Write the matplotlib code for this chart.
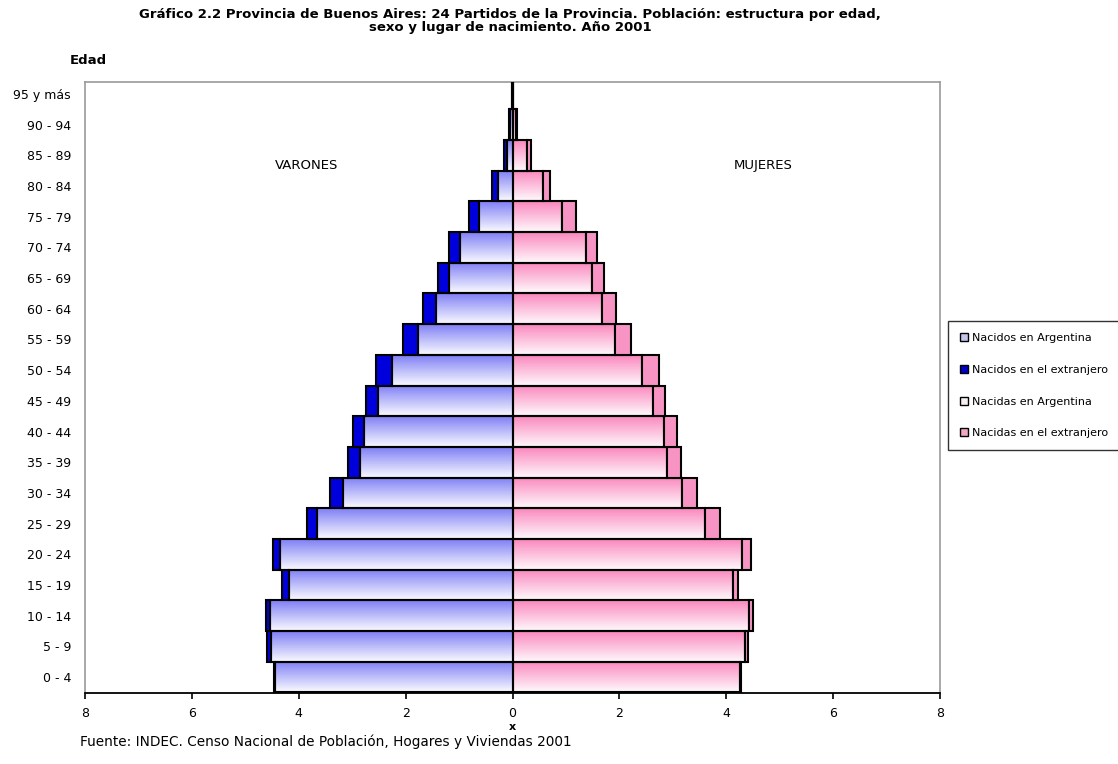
import numpy as np
import matplotlib
matplotlib.use("Agg")
import matplotlib.pyplot as plt
from matplotlib.colors import LinearSegmentedColormap
from matplotlib.patches import Patch

plt.rcParams["font.family"] = ["DejaVu Sans"]

# grupos de edad (de abajo hacia arriba)
edades = ["0 - 4", "5 - 9", "10 - 14", "15 - 19", "20 - 24", "25 - 29", "30 - 34",
          "35 - 39", "40 - 44", "45 - 49", "50 - 54", "55 - 59", "60 - 64",
          "65 - 69", "70 - 74", "75 - 79", "80 - 84", "85 - 89", "90 - 94", "95 y más"]

# porcentajes sobre la población total
varones_arg = [4.44, 4.52, 4.53, 4.19, 4.35, 3.66, 3.17, 2.85, 2.77, 2.52,
               2.25, 1.77, 1.44, 1.19, 0.98, 0.63, 0.28, 0.11, 0.04, 0.01]
varones_ext = [0.03, 0.07, 0.09, 0.13, 0.13, 0.19, 0.24, 0.22, 0.21, 0.22,
               0.30, 0.28, 0.24, 0.21, 0.21, 0.19, 0.10, 0.04, 0.03, 0.005]
mujeres_arg = [4.25, 4.35, 4.43, 4.13, 4.30, 3.61, 3.18, 2.90, 2.84, 2.62,
               2.42, 1.92, 1.68, 1.49, 1.37, 0.93, 0.57, 0.27, 0.06, 0.01]
mujeres_ext = [0.03, 0.06, 0.07, 0.09, 0.17, 0.27, 0.27, 0.26, 0.24, 0.23,
               0.32, 0.30, 0.26, 0.22, 0.22, 0.26, 0.13, 0.07, 0.03, 0.005]

xticks = [-8, -6, -4, -2, 0, 2, 4, 6, 8]

y = np.arange(len(edades))
va = np.array(varones_arg)
ve = np.array(varones_ext)
ma = np.array(mujeres_arg)
me = np.array(mujeres_ext)

fig = plt.figure(figsize=(11.18, 7.64), dpi=100)
ax = fig.add_axes([85 / 1118, 71 / 764, 855 / 1118, 611 / 764])

azul = LinearSegmentedColormap.from_list("azul", ["#8080f6", "#fafaff"])
rosa = LinearSegmentedColormap.from_list("rosa", ["#fa88be", "#fff9fc"])
grad = np.linspace(0, 1, 64).reshape(-1, 1)

# barras nacidos en Argentina: contorno negro, relleno degradado
b_va = ax.barh(y, -va, height=1.0, facecolor="none", edgecolor="black",
               linewidth=1.5, zorder=3)
b_ma = ax.barh(y, ma, height=1.0, facecolor="none", edgecolor="black",
               linewidth=1.5, zorder=3)
for bars, cmap in ((b_va, azul), (b_ma, rosa)):
    for p in bars:
        x0, x1 = sorted([p.get_x(), p.get_x() + p.get_width()])
        y0, y1 = p.get_y(), p.get_y() + p.get_height()
        ax.imshow(grad, cmap=cmap, aspect="auto", origin="upper",
                  extent=(x0, x1, y0, y1), interpolation="bilinear", zorder=1)

# nacidos en el extranjero, a continuación
ax.barh(y, -ve, left=-va, height=1.0, color="#0000dd", edgecolor="black",
        linewidth=1.5, zorder=3)
ax.barh(y, me, left=ma, height=1.0, color="#f794c4", edgecolor="black",
        linewidth=1.5, zorder=3)

ax.axvline(0, color="black", linewidth=1.2, zorder=4)

ax.set_xlim(-8, 8)
ax.set_ylim(-0.52, len(edades) - 1 + 0.39)
ax.set_xticks(xticks)
ax.set_xticklabels([str(abs(t)) for t in xticks], fontsize=9)
ax.set_yticks(y)
ax.set_yticklabels(edades, fontsize=9)
ax.tick_params(axis="y", length=0, pad=10)
ax.tick_params(axis="x", length=4, width=1.2, color="black", pad=6)
for s in ("left", "top", "right"):
    ax.spines[s].set_color("#9a9a9a")
    ax.spines[s].set_linewidth(1.2)
ax.spines["bottom"].set_color("black")
ax.spines["bottom"].set_linewidth(1.3)

ax.text(-3.86, 16.68, "VARONES", ha="center", va="center", fontsize=9.5)
ax.text(4.70, 16.68, "MUJERES", ha="center", va="center", fontsize=9.5)

fig.text(510 / 1118, 1 - 8 / 764,
         "Gráfico 2.2 Provincia de Buenos Aires: 24 Partidos de la Provincia. Población: estructura por edad,\n"
         "sexo y lugar de nacimiento. Año 2001",
         ha="center", va="top", fontsize=9.5, fontweight="bold", linespacing=0.95)
fig.text(88 / 1118, 1 - 60 / 764, "Edad", ha="center", va="center",
         fontsize=9.5, fontweight="bold")
fig.text(512 / 1118, 1 - 727 / 764, "x", ha="center", va="center",
         fontsize=8, fontweight="bold")
fig.text(80 / 1118, 1 - 742 / 764,
         "Fuente: INDEC. Censo Nacional de Población, Hogares y Viviendas 2001",
         ha="left", va="center", fontsize=9.8)

handles = [
    Patch(facecolor="#c4c4ee", edgecolor="black", label="Nacidos en Argentina"),
    Patch(facecolor="#0000c8", edgecolor="black", label="Nacidos en el extranjero"),
    Patch(facecolor="#f6eef0", edgecolor="black", label="Nacidas en Argentina"),
    Patch(facecolor="#f0a6c4", edgecolor="black", label="Nacidas en el extranjero"),
]
leg = fig.legend(handles=handles, loc="upper left",
                 bbox_to_anchor=(948 / 1118, 1 - 321 / 764),
                 fontsize=8, frameon=True, fancybox=False, edgecolor="black",
                 handlelength=0.7, handleheight=0.7, handletextpad=0.4,
                 labelspacing=1.95, borderpad=1.1, borderaxespad=0)
leg.get_frame().set_linewidth(1.0)

fig.savefig("out.png", dpi=100)
